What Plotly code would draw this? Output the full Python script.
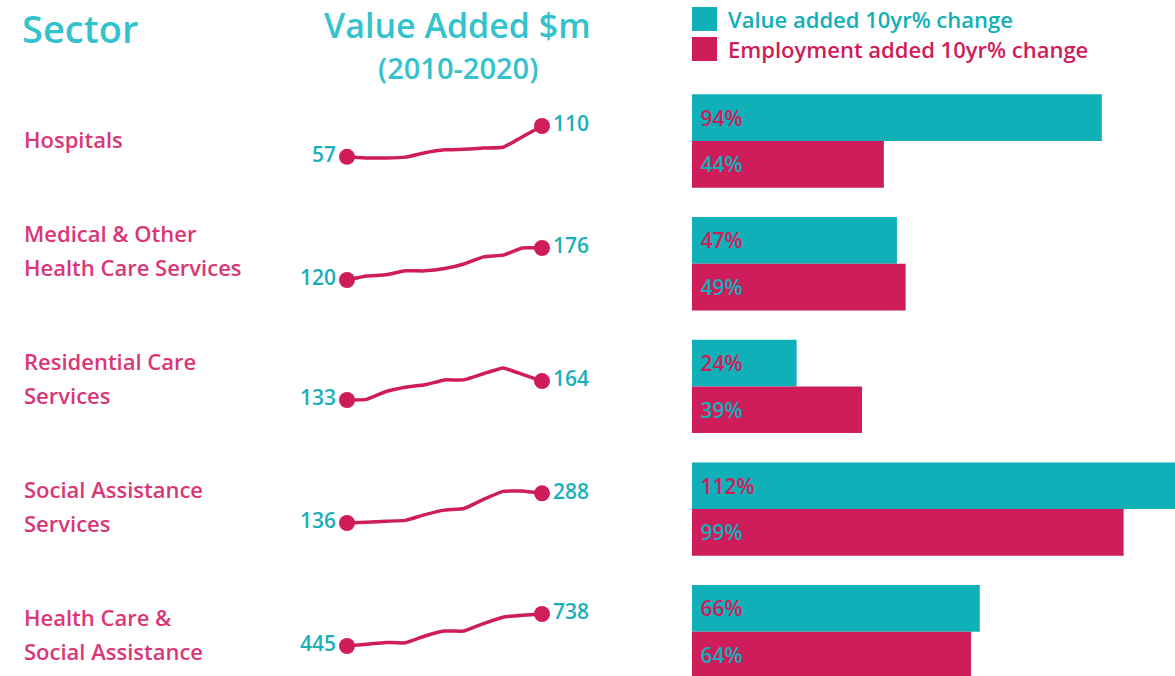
import plotly.graph_objects as go

# ---------------- data ----------------
sectors = ["Hospitals", "Medical & Other<br>Health Care Services", "Residential Care<br>Services",
           "Social Assistance<br>Services", "Health Care &<br>Social Assistance"]
years = list(range(2010, 2021))
va_hospitals = [57, 55, 55, 56.5, 64, 69, 70, 72, 73.5, 91.5, 110]
va_medical = [120, 127, 129, 136, 136, 140, 148, 160.5, 163.5, 176, 176]
va_residential = [133, 134, 147, 154, 158, 166, 166, 176, 185.5, 175, 164]
va_social = [136, 140, 145, 149.5, 179, 202, 210, 257, 298, 300, 288]
va_total = [445, 460, 478, 474, 537, 582, 582, 650, 709, 727, 738]
value_added_pct = [94, 47, 24, 112, 66]
employment_pct = [44, 49, 39, 99, 64]
legend_labels = ["Value added 10yr% change", "Employment added 10yr% change"]
header_texts = ["Sector", "Value Added $m", "(2010-2020)"]

spark_series = [va_hospitals, va_medical, va_residential, va_social, va_total]

# ---------------- styling / layout constants ----------------
W, H = 1175, 676
TEAL = "#10B0B9"
PINK = "#CF1D5B"
LABEL_PINK = "#D93776"
TITLE_TEAL = "#34C3CC"
VAL_TEAL = "#1AAFB8"
FONT = "Open Sans"

BAR_X0_PX = 692
PX_PER_PCT = 4.36
ROW0_PX, ROW_STEP_PX = 141, 122.7
LABEL_ROW_PX = [139, 250, 378, 506, 634]
SPARK_CENTER_PX = [142, 264, 384, 507, 630]
SPARK_BAND = 32
SPARK_PAD = 6
SPARK_X0_PX, SPARK_X1_PX = 347, 542


def px_to_paper_y(p):
    return 1 - p / H


fig = go.Figure()

# ---------------- bars ----------------
cat_idx = list(range(len(sectors)))
fig.add_trace(go.Bar(
    y=cat_idx, x=value_added_pct, orientation="h", name=legend_labels[0],
    marker=dict(color=TEAL, line=dict(width=0)),
    text=[f" {v}%" for v in value_added_pct], textposition="inside", insidetextanchor="start",
    textangle=0, textfont=dict(color=PINK, size=21, family=FONT, weight=600),
    xaxis="x", yaxis="y", showlegend=False, hoverinfo="skip",
))
fig.add_trace(go.Bar(
    y=cat_idx, x=employment_pct, orientation="h", name=legend_labels[1],
    marker=dict(color=PINK, line=dict(width=0)),
    text=[f" {v}%" for v in employment_pct], textposition="inside", insidetextanchor="start",
    textangle=0, textfont=dict(color=TEAL, size=21, family=FONT, weight=600),
    xaxis="x", yaxis="y", showlegend=False, hoverinfo="skip",
))

layout_axes = {}
layout_axes["xaxis"] = dict(domain=[BAR_X0_PX / W, 1], range=[0, (W - BAR_X0_PX) / PX_PER_PCT],
                            visible=False, fixedrange=True)
layout_axes["yaxis"] = dict(domain=[0, 1],
                            range=[(H - ROW0_PX) / ROW_STEP_PX, (0 - ROW0_PX) / ROW_STEP_PX],
                            visible=False, fixedrange=True)

# ---------------- sparklines ----------------
pad_yr = SPARK_PAD / ((SPARK_X1_PX - SPARK_X0_PX) / (years[-1] - years[0]))
layout_axes["xaxis2"] = dict(
    domain=[(SPARK_X0_PX - SPARK_PAD) / W, (SPARK_X1_PX + SPARK_PAD) / W],
    range=[years[0] - pad_yr, years[-1] + pad_yr], visible=False, fixedrange=True, anchor="y2")

for i, series in enumerate(spark_series):
    ax = i + 2
    lo, hi = min(series), max(series)
    per_px = (hi - lo) / SPARK_BAND
    c = SPARK_CENTER_PX[i]
    top_px = c - SPARK_BAND / 2 - SPARK_PAD
    bot_px = c + SPARK_BAND / 2 + SPARK_PAD
    layout_axes[f"yaxis{ax}"] = dict(
        domain=[px_to_paper_y(bot_px), px_to_paper_y(top_px)],
        range=[lo - SPARK_PAD * per_px, hi + SPARK_PAD * per_px],
        visible=False, fixedrange=True, anchor="x2")
    fig.add_trace(go.Scatter(
        x=years, y=series, mode="lines", line=dict(color=PINK, width=3.5, shape="spline", smoothing=0.3),
        xaxis="x2", yaxis=f"y{ax}", showlegend=False, hoverinfo="skip",
    ))
    ends_x = [years[0], years[-1]]
    ends_y = [series[0], series[-1]]
    fig.add_trace(go.Scatter(
        x=ends_x, y=ends_y, mode="markers+text",
        marker=dict(color=PINK, size=16),
        text=[f"{round(v)}" for v in ends_y],
        textposition=["middle left", "middle right"],
        textfont=dict(color=VAL_TEAL, size=21, family=FONT, weight=600),
        cliponaxis=False, xaxis="x2", yaxis=f"y{ax}", showlegend=False, hoverinfo="skip",
    ))

# ---------------- text annotations ----------------
annotations = []
# sector labels
for i, s in enumerate(sectors):
    lines = s.split("<br>")
    n = len(lines)
    for j, line in enumerate(lines):
        ypx = LABEL_ROW_PX[i] + (j - (n - 1) / 2) * 34
        annotations.append(dict(
            text=line, x=22 / W, y=px_to_paper_y(ypx), xref="paper", yref="paper",
            xanchor="left", yanchor="middle", showarrow=False,
            font=dict(color=LABEL_PINK, size=22, family=FONT, weight=600)))

# headers
annotations.append(dict(text=header_texts[0], x=20 / W, y=px_to_paper_y(28), xref="paper", yref="paper",
                        xanchor="left", yanchor="middle", showarrow=False,
                        font=dict(color=TITLE_TEAL, size=38, family=FONT, weight=600)))
annotations.append(dict(text=header_texts[1], x=458 / W, y=px_to_paper_y(25), xref="paper", yref="paper",
                        xanchor="center", yanchor="middle", showarrow=False,
                        font=dict(color=TITLE_TEAL, size=34, family=FONT, weight=600)))
annotations.append(dict(text=header_texts[2], x=458 / W, y=px_to_paper_y(68), xref="paper", yref="paper",
                        xanchor="center", yanchor="middle", showarrow=False,
                        font=dict(color=TITLE_TEAL, size=29, family=FONT, weight=600)))

# legend (swatches + text)
shapes = []
for k, (lab, col, ypx) in enumerate([(legend_labels[0], TEAL, 19), (legend_labels[1], PINK, 49)]):
    shapes.append(dict(type="rect", xref="paper", yref="paper",
                       x0=692 / W, x1=717 / W, y0=px_to_paper_y(ypx + 12), y1=px_to_paper_y(ypx - 12),
                       fillcolor=col, line=dict(width=0)))
    annotations.append(dict(text=lab, x=726 / W, y=px_to_paper_y(ypx), xref="paper", yref="paper",
                            xanchor="left", yanchor="middle", showarrow=False,
                            font=dict(color=col, size=22, family=FONT, weight=600)))

fig.update_layout(
    width=W, height=H, margin=dict(l=0, r=0, t=0, b=0),
    paper_bgcolor="white", plot_bgcolor="rgba(0,0,0,0)",
    barmode="group", bargap=0.239, bargroupgap=0,
    annotations=annotations, shapes=shapes, showlegend=False,
    font=dict(family=FONT), hovermode=False,
    **layout_axes,
)

fig.write_html("out.html", config={"displayModeBar": False},
               post_script="document.body.style.margin='0';document.body.style.padding='0';")
